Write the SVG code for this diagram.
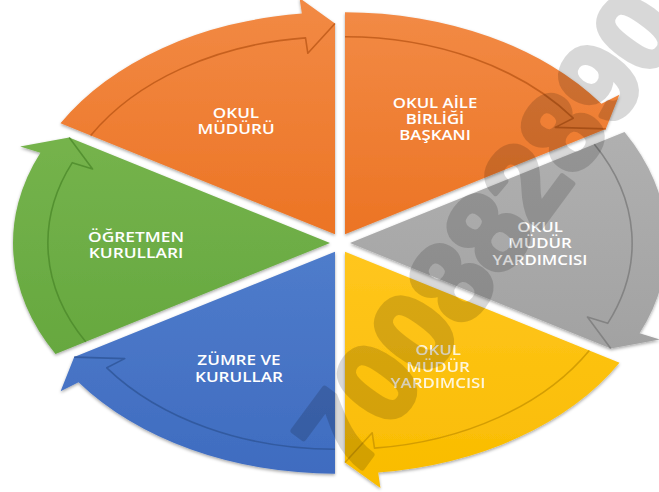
<svg xmlns="http://www.w3.org/2000/svg" width="659" height="492" viewBox="0 0 659 492">
<defs>
<filter id="sh" x="-10%" y="-10%" width="120%" height="120%">
<feDropShadow dx="0" dy="1.5" stdDeviation="1.8" flood-color="#000" flood-opacity="0.35"/>
</filter>
<linearGradient id="gOr" x1="0" y1="0" x2="0" y2="1"><stop offset="0" stop-color="#F28A45"/><stop offset="1" stop-color="#EC7424"/></linearGradient>
<linearGradient id="gGy" x1="0" y1="0" x2="0" y2="1"><stop offset="0" stop-color="#B0B0B0"/><stop offset="1" stop-color="#A2A2A2"/></linearGradient>
<linearGradient id="gYe" x1="0" y1="0" x2="0" y2="1"><stop offset="0" stop-color="#FFC61E"/><stop offset="1" stop-color="#F9BC00"/></linearGradient>
<linearGradient id="gBl" x1="0" y1="0" x2="0" y2="1"><stop offset="0" stop-color="#4F7CCB"/><stop offset="1" stop-color="#3F6CC0"/></linearGradient>
<linearGradient id="gGr" x1="0" y1="0" x2="0" y2="1"><stop offset="0" stop-color="#75B34C"/><stop offset="1" stop-color="#66A83F"/></linearGradient>
</defs>
<style>
.seg{filter:url(#sh);}
.lbl{font-family:"Open Sans","Liberation Sans",sans-serif;font-size:14px;font-weight:600;fill:#FFFFFF;text-anchor:middle;}
.arr{fill:none;stroke-width:1.6;stroke-linejoin:round;}
.wm{font-family:"Liberation Sans",Arial,sans-serif;font-weight:bold;font-size:112px;fill:#000;stroke:#000;stroke-width:6;stroke-linejoin:round;text-anchor:middle;}
</style>

<g id="okul-muduru">
<path class="seg" fill="url(#gOr)" d="M335,234.34 L60.48,123.34 A317 222 0 0 1 301.87,13.56 L299.55,-1.9 L335,23.44 Z"/>
<g transform="translate(236 0) scale(1.22 1)"><text class="lbl" x="0" y="118">OKUL</text><text class="lbl" x="0" y="134">MÜDÜRÜ</text></g>
</g>

<g id="okul-aile-birligi-baskani">
<path class="seg" fill="url(#gOr)" d="M345,234.34 L345,12.34 A317 222 0 0 1 601.45,103.85 L619.4,94.71 L605.8,128.89 Z"/>
<g transform="translate(435 0) scale(1.2 1)"><text class="lbl" x="0" y="108">OKUL AİLE</text><text class="lbl" x="0" y="124">BİRLİĞİ</text><text class="lbl" x="0" y="140">BAŞKANI</text></g>
</g>

<g id="okul-mudur-yardimcisi-1">
<path class="seg" fill="url(#gGy)" d="M350,243 L624.52,132 A317 222 0 0 1 639.58,333.29 L659.85,339.61 L610.8,348.45 Z"/>
<g transform="translate(540 0) scale(1.2 1)"><text class="lbl" x="0" y="232">OKUL</text><text class="lbl" x="0" y="248">MÜDÜR</text><text class="lbl" x="0" y="265">YARDIMCISI</text></g>
</g>

<g id="okul-mudur-yardimcisi-2">
<path class="seg" fill="url(#gYe)" d="M345,251.66 L619.52,362.66 A317 222 0 0 1 378.13,472.44 L380.45,487.89 L345,462.56 Z"/>
<g transform="translate(438 0) scale(1.2 1)" opacity="0.85"><text class="lbl" x="0" y="355">OKUL</text><text class="lbl" x="0" y="372">MÜDÜR</text><text class="lbl" x="0" y="388">YARDIMCISI</text></g>
</g>

<g id="zumre-ve-kurullar">
<path class="seg" fill="url(#gBl)" d="M335,251.66 L335,473.66 A317 222 0 0 1 78.55,382.15 L60.6,391.29 L74.2,357.11 Z"/>
<g transform="translate(239 0) scale(1.22 1)"><text class="lbl" x="0" y="365">ZÜMRE VE</text><text class="lbl" x="0" y="382">KURULLAR</text></g>
</g>

<g id="ogretmen-kurullari">
<path class="seg" fill="url(#gGr)" d="M330,243 L55.48,354 A317 222 0 0 1 40.42,152.71 L20.15,146.39 L69.2,137.55 Z"/>
<g transform="translate(136 0) scale(1.24 1)"><text class="lbl" x="0" y="242">ÖĞRETMEN</text><text class="lbl" x="0" y="258">KURULLARI</text></g>
</g>

<g id="connectors">
<path class="arr" stroke="#B85414" stroke-opacity="0.75" d="M90.68,135.55 A282.13 197.58 0 0 1 305.52,37.85 L307.84,53.3 L335,23.44"/>
<path class="arr" stroke="#B85414" stroke-opacity="0.75" d="M345,36.76 A282.13 197.58 0 0 1 573.24,118.2 L555.29,127.34 L605.8,128.89"/>
<path class="arr" stroke="#7A7A7A" stroke-opacity="0.8" d="M594.32,144.21 A282.13 197.58 0 0 1 607.73,323.36 L587.45,317.04 L610.8,348.45"/>
<path class="arr" stroke="#C99500" stroke-opacity="0.8" d="M589.32,350.45 A282.13 197.58 0 0 1 374.48,448.15 L372.16,432.7 L345,462.56"/>
<path class="arr" stroke="#2E5597" stroke-opacity="0.8" d="M335,449.24 A282.13 197.58 0 0 1 106.76,367.8 L124.71,358.66 L74.2,357.11"/>
<path class="arr" stroke="#4C8A2A" stroke-opacity="0.8" d="M85.68,341.79 A282.13 197.58 0 0 1 72.27,162.64 L92.55,168.96 L69.2,137.55"/>
</g>

<g id="watermark" opacity="0.15">
<text class="wm" transform="translate(488 232) rotate(-53.5)" x="0" y="39">700882890</text>
</g>
</svg>
